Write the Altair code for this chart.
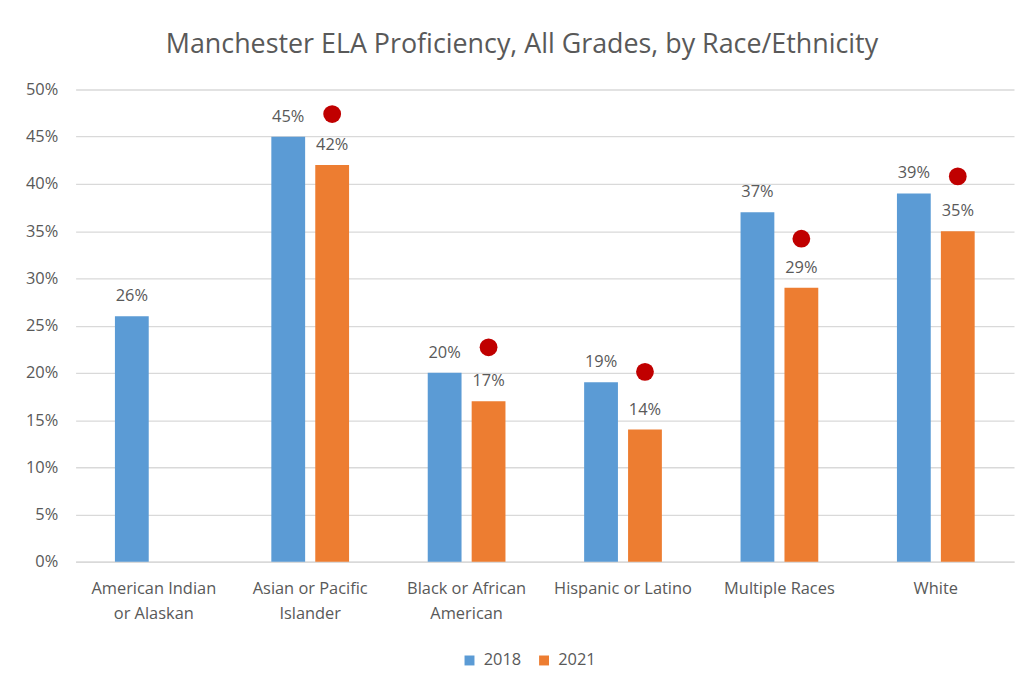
import altair as alt
import pandas as pd

categories = ["American Indian or Alaskan", "Asian or Pacific Islander", "Black or African American",
              "Hispanic or Latino", "Multiple Races", "White"]
vals_2018 = [0.26, 0.45, 0.20, 0.19, 0.37, 0.39]
vals_2021 = [None, 0.42, 0.17, 0.14, 0.29, 0.35]
dots_2021 = [None, 0.474, 0.227, 0.201, 0.342, 0.408]
years = ["2018", "2021"]

rows = []
for c, a, b in zip(categories, vals_2018, vals_2021):
    if a is not None:
        rows.append({"cat": c, "year": "2018", "v": a})
    if b is not None:
        rows.append({"cat": c, "year": "2021", "v": b})
bars_df = pd.DataFrame(rows)
dots_df = pd.DataFrame([{"cat": c, "year": "2021", "v": d} for c, d in zip(categories, dots_2021) if d is not None])

FONT = "Open Sans"
GREY = "#595959"
FS = 16.5

label_expr = ("datum.value == 'American Indian or Alaskan' ? ['American Indian','or Alaskan'] : "
              "datum.value == 'Asian or Pacific Islander' ? ['Asian or Pacific','Islander'] : "
              "datum.value == 'Black or African American' ? ['Black or African','American'] : datum.value")

x = alt.X("cat:N", sort=categories, title=None,
          scale=alt.Scale(paddingInner=0.5, paddingOuter=0.25),
          axis=alt.Axis(labelAngle=0, labelExpr=label_expr, labelFont=FONT, labelFontSize=FS,
                        labelColor=GREY, labelPadding=19, labelLineHeight=25, ticks=False,
                        domainColor="#D9D9D9", domainWidth=1.5, labelBaseline="top"))
xo = alt.XOffset("year:N", sort=years, scale=alt.Scale(paddingInner=0.22, paddingOuter=0))
y = alt.Y("v:Q", title=None, scale=alt.Scale(domain=[0, 0.5], nice=False),
          axis=alt.Axis(format=".0%", values=[i / 100 for i in range(0, 51, 5)], labelFont=FONT,
                        labelFontSize=FS, labelColor=GREY, labelPadding=18, ticks=False,
                        domain=False, gridColor="#D9D9D9", gridWidth=1.3))
color = alt.Color("year:N", sort=years,
                  scale=alt.Scale(domain=years, range=["#5B9BD5", "#ED7D31"]),
                  legend=alt.Legend(title=None, orient="none", direction="horizontal",
                                    legendX=388, legendY=566, symbolType="square", symbolSize=100,
                                    symbolStrokeWidth=0, labelFont=FONT, labelFontSize=FS,
                                    labelColor=GREY, columnPadding=14, labelOffset=6))

base = alt.Chart(bars_df)
bars = base.mark_bar(size=34).encode(x=x, xOffset=xo, y=y, color=color)
texts = base.mark_text(dy=-15, baseline="alphabetic", font=FONT, fontSize=FS, color=GREY).encode(
    x=alt.X("cat:N", sort=categories), xOffset=alt.XOffset("year:N", sort=years), y="v:Q",
    text=alt.Text("v:Q", format=".0%"))
dots = alt.Chart(dots_df).mark_circle(size=320, color="#C00000", opacity=1).encode(
    x=alt.X("cat:N", sort=categories), xOffset=alt.XOffset("year:N", sort=years), y="v:Q")

chart = alt.layer(bars, texts, dots).properties(
    width=944, height=475,
    autosize=alt.AutoSizeParams(type="none"),
    padding={"left": 68, "top": 80, "right": 2, "bottom": 112},
    title=alt.Title("Manchester ELA Proficiency, All Grades, by Race/Ethnicity", font=FONT,
                    fontSize=27, fontWeight="normal", color=GREY, anchor="middle", offset=23, dx=-23),
    background="white",
).configure_view(stroke=None)

chart.save("out.html", embed_options={"renderer": "svg", "actions": False})
